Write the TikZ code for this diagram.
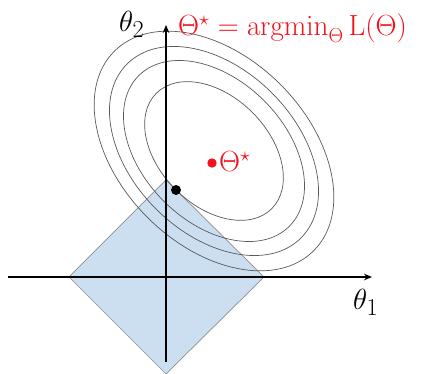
\documentclass[tikz,border=0pt]{standalone}
\usetikzlibrary{arrows.meta,positioning}
\definecolor{Ball}{HTML}{CCDFF1}
\definecolor{Edge}{HTML}{8E8E8E}
\definecolor{Optimum}{HTML}{F5101A}

\begin{document}
\begin{tikzpicture}[x=.03cm,y=.03cm,
  axis/.style={-{Stealth[length=2.4mm,width=2mm]},line width=1.2pt,draw=black},
  contour/.style={draw=black!65,line width=.6pt},
  ball/.style={fill=Ball,draw=Edge,line width=.6pt},
  touchdot/.style={circle,fill=black,inner sep=0pt,minimum size=8.5pt},
  optdot/.style={circle,fill=Optimum,inner sep=0pt,minimum size=8pt},
  axlabel/.style={font=\fontsize{29}{33}\selectfont,inner sep=0pt},
  optlabel/.style={text=Optimum,font=\fontsize{26}{30}\selectfont,inner sep=0pt}]
\useasboundingbox (-166,-97) rectangle (263,277);
\coordinate (xstart) at (-158,0);\coordinate (xend) at (206,0);
\coordinate (ystart) at (0,-85);\coordinate (yend) at (0,252);
\coordinate (c) at (48,126);
% l1 ball
\draw[ball] (-97,0) -- (0,97) -- (98,0) -- (0,-97) -- cycle;
% level sets of the loss
\foreach \b in {54.4,71,82,94}
  \draw[contour,rotate around={-45:(c)}] (c) ellipse [x radius=1.5*\b, y radius=\b];
\draw[axis](xstart)--(xend);\draw[axis](ystart)--(yend);
\node[touchdot](touch) at (10,87){};
\node[optdot](opt) at (46,114){};
\node[optlabel,anchor=base west](optname) at (53,105){$\Theta^\star$};
\node[optlabel,anchor=base west](argmin) at (12,241){$\Theta^\star=\mathrm{argmin}_\Theta\,\mathrm{L}(\Theta)$};
\node[axlabel,anchor=base west](t2) at (-47,245){$\theta_2$};
\node[axlabel,anchor=base west](t1) at (187,-33){$\theta_1$};
\end{tikzpicture}
\end{document}
